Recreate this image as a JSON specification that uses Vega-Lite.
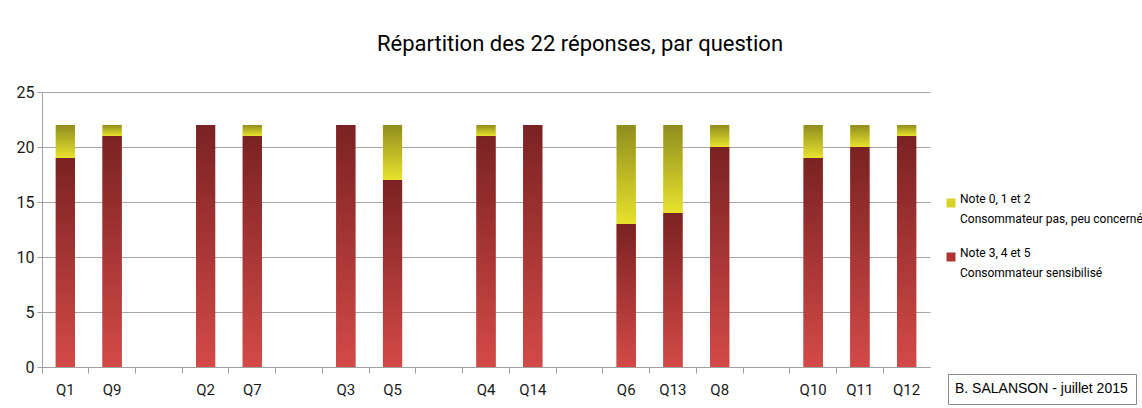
{
  "$schema": "https://vega.github.io/schema/vega-lite/v6.json",
  "width": 888,
  "height": 275,
  "autosize": {"type": "none"},
  "padding": {"left": 42, "top": 92, "right": 212, "bottom": 41},
  "background": "white",
  "title": {
    "text": "Répartition des 22 réponses, par question",
    "font": "Roboto",
    "fontSize": 22,
    "fontWeight": "normal",
    "color": "#000000",
    "anchor": "middle",
    "dx": 94,
    "offset": 28
  },
  "config": {
    "view": {"stroke": null},
    "font": "Roboto",
    "style": {"guide-label": {"lineHeight": 20}}
  },
  "layer": [
    {
      "data": {
        "values": [
          {"question": "Q1", "note": "Note 3, 4 et 5", "ord": 0, "count": 19},
          {"question": "Q1", "note": "Note 0, 1 et 2", "ord": 1, "count": 3},
          {"question": "Q9", "note": "Note 3, 4 et 5", "ord": 0, "count": 21},
          {"question": "Q9", "note": "Note 0, 1 et 2", "ord": 1, "count": 1},
          {"question": "Q2", "note": "Note 3, 4 et 5", "ord": 0, "count": 22},
          {"question": "Q7", "note": "Note 3, 4 et 5", "ord": 0, "count": 21},
          {"question": "Q7", "note": "Note 0, 1 et 2", "ord": 1, "count": 1},
          {"question": "Q3", "note": "Note 3, 4 et 5", "ord": 0, "count": 22},
          {"question": "Q5", "note": "Note 3, 4 et 5", "ord": 0, "count": 17},
          {"question": "Q5", "note": "Note 0, 1 et 2", "ord": 1, "count": 5},
          {"question": "Q4", "note": "Note 3, 4 et 5", "ord": 0, "count": 21},
          {"question": "Q4", "note": "Note 0, 1 et 2", "ord": 1, "count": 1},
          {"question": "Q14", "note": "Note 3, 4 et 5", "ord": 0, "count": 22},
          {"question": "Q6", "note": "Note 3, 4 et 5", "ord": 0, "count": 13},
          {"question": "Q6", "note": "Note 0, 1 et 2", "ord": 1, "count": 9},
          {"question": "Q13", "note": "Note 3, 4 et 5", "ord": 0, "count": 14},
          {"question": "Q13", "note": "Note 0, 1 et 2", "ord": 1, "count": 8},
          {"question": "Q8", "note": "Note 3, 4 et 5", "ord": 0, "count": 20},
          {"question": "Q8", "note": "Note 0, 1 et 2", "ord": 1, "count": 2},
          {"question": "Q10", "note": "Note 3, 4 et 5", "ord": 0, "count": 19},
          {"question": "Q10", "note": "Note 0, 1 et 2", "ord": 1, "count": 3},
          {"question": "Q11", "note": "Note 3, 4 et 5", "ord": 0, "count": 20},
          {"question": "Q11", "note": "Note 0, 1 et 2", "ord": 1, "count": 2},
          {"question": "Q12", "note": "Note 3, 4 et 5", "ord": 0, "count": 21},
          {"question": "Q12", "note": "Note 0, 1 et 2", "ord": 1, "count": 1}
        ]
      },
      "transform": [
        {"stack": "count", "groupby": ["question"], "sort": [{"field": "ord", "order": "ascending"}], "as": ["v0", "v1"]}
      ],
      "encoding": {
        "x": {
          "field": "question",
          "type": "nominal",
          "sort": null,
          "scale": {
            "domain": ["Q1", "Q9", "_a", "Q2", "Q7", "_b", "Q3", "Q5", "_c", "Q4", "Q14", "_d", "Q6", "Q13", "Q8", "_e", "Q10", "Q11", "Q12"],
            "paddingInner": 0,
            "paddingOuter": 0
          },
          "axis": {
            "title": null,
            "labelAngle": 0,
            "bandPosition": 0,
            "tickSize": 6,
            "labelPadding": 9,
            "labelFontSize": 15,
            "labelColor": "#1a1a1a",
            "labelExpr": "indexof(datum.value, '_') == 0 ? '' : datum.value",
            "domainColor": "#a0a0a0",
            "tickColor": "#a0a0a0"
          }
        },
        "y": {
          "field": "v1",
          "type": "quantitative",
          "scale": {"domain": [0, 25], "nice": false},
          "axis": {
            "title": null,
            "tickCount": 5,
            "grid": true,
            "gridColor": "#a6a6a6",
            "domainColor": "#a0a0a0",
            "tickColor": "#a0a0a0",
            "tickSize": 5,
            "labelFontSize": 16,
            "labelColor": "#1a1a1a",
            "labelPadding": 3
          }
        },
        "y2": {"field": "v0"}
      },
      "layer": [
        {
          "mark": {"type": "bar", "width": {"band": 0.41}},
          "encoding": {
            "color": {
              "field": "note",
              "type": "nominal",
              "scale": {
                "domain": ["Note 0, 1 et 2", "Note 3, 4 et 5"],
                "range": ["#d8d22a", "#b03432"]
              },
              "legend": {
                "title": null,
                "orient": "none",
                "legendX": 903,
                "legendY": 105,
                "symbolType": "square",
                "symbolSize": 81,
                "labelFontSize": 12,
                "labelOffset": 3,
                "labelColor": "#000000",
                "labelLimit": 400,
                "labelBaseline": "alphabetic",
                "rowPadding": 22,
                "labelExpr": "datum.value == 'Note 0, 1 et 2' ? ['Note 0, 1 et 2', 'Consommateur pas, peu concerné'] : ['Note 3, 4 et 5', 'Consommateur sensibilisé']"
              }
            }
          }
        },
        {
          "transform": [{"filter": "datum.ord == 0"}],
          "mark": {
            "type": "bar",
            "width": {"band": 0.41},
            "color": {"gradient": "linear", "x1": 0, "y1": 0, "x2": 0, "y2": 1, "stops": [{"offset": 0, "color": "#7a2222"}, {"offset": 1, "color": "#d34a47"}]}
          }
        },
        {
          "transform": [{"filter": "datum.ord == 1"}],
          "mark": {
            "type": "bar",
            "width": {"band": 0.41},
            "color": {"gradient": "linear", "x1": 0, "y1": 0, "x2": 0, "y2": 1, "stops": [{"offset": 0, "color": "#8f8d1e"}, {"offset": 1, "color": "#e8e22c"}]}
          }
        }
      ]
    },
    {
      "data": {"values": [{"credit": "B. SALANSON - juillet 2015"}]},
      "mark": {"type": "point", "opacity": 0},
      "encoding": {
        "shape": {
          "field": "credit",
          "type": "nominal",
          "legend": {
            "title": null,
            "orient": "none",
            "legendX": 906,
            "legendY": 282,
            "symbolSize": 0,
            "symbolOpacity": 0,
            "labelOffset": -15,
            "labelFontSize": 14,
            "labelFont": "Liberation Sans",
            "labelColor": "#000000",
            "labelLimit": 400,
            "strokeColor": "#8c8c8c",
            "padding": 8
          }
        }
      }
    }
  ]
}
